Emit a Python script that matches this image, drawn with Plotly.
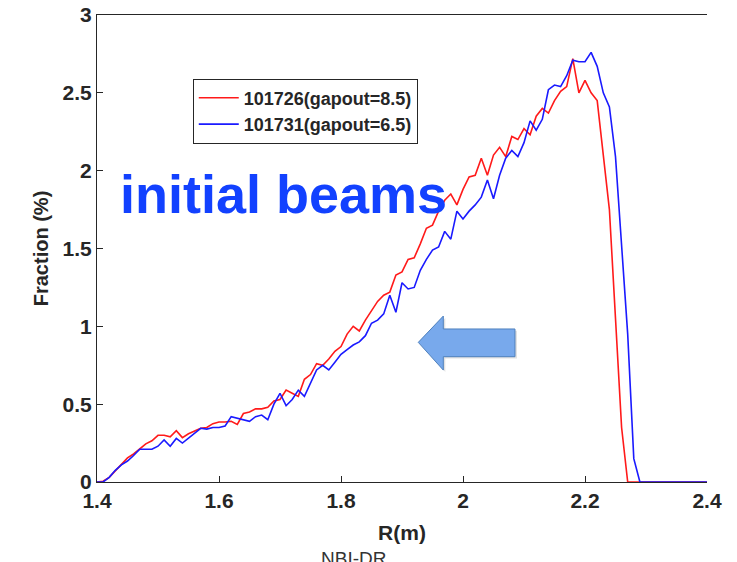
import plotly.graph_objects as go

R = [round(1.40 + 0.01 * i, 2) for i in range(101)]

red_vals = [
    0.0, 0.005, 0.03, 0.07, 0.115, 0.155, 0.18, 0.21, 0.245, 0.265,
    0.30, 0.30, 0.29, 0.33, 0.285, 0.31, 0.33, 0.345, 0.35, 0.375,
    0.385, 0.385, 0.39, 0.37, 0.44, 0.45, 0.47, 0.47, 0.48, 0.52,
    0.53, 0.59, 0.57, 0.55, 0.66, 0.69, 0.76, 0.75, 0.79, 0.84,
    0.87, 0.95, 1.00, 0.97, 1.04, 1.10, 1.16, 1.20, 1.22, 1.33,
    1.35, 1.43, 1.44, 1.53, 1.63, 1.65, 1.74, 1.81, 1.85, 1.78,
    1.88, 1.96, 1.97, 2.08, 1.97, 2.10, 2.15, 2.09, 2.22, 2.20,
    2.27, 2.23, 2.35, 2.40, 2.37, 2.45, 2.51, 2.54, 2.72, 2.50,
    2.58, 2.50, 2.45, 2.10, 1.75, 1.05, 0.35, 0.0, 0.0, 0.0,
    0.0, 0.0, 0.0, 0.0, 0.0, 0.0, 0.0, 0.0, 0.0, 0.0, 0.0,
]

blue_vals = [
    0.0, 0.0, 0.03, 0.075, 0.11, 0.135, 0.17, 0.21, 0.21, 0.21,
    0.23, 0.27, 0.23, 0.28, 0.25, 0.28, 0.31, 0.345, 0.34, 0.35,
    0.35, 0.36, 0.42, 0.41, 0.40, 0.39, 0.42, 0.43, 0.40, 0.50,
    0.57, 0.49, 0.53, 0.59, 0.55, 0.63, 0.72, 0.75, 0.72, 0.77,
    0.82, 0.85, 0.88, 0.90, 0.94, 1.02, 1.04, 1.08, 1.20, 1.09,
    1.28, 1.24, 1.25, 1.36, 1.43, 1.49, 1.51, 1.61, 1.56, 1.74,
    1.69, 1.74, 1.78, 1.83, 1.94, 1.82, 1.97, 2.08, 2.13, 2.09,
    2.18, 2.32, 2.26, 2.33, 2.52, 2.55, 2.54, 2.61, 2.71, 2.70,
    2.70, 2.76, 2.67, 2.50, 2.41, 2.09, 1.53, 0.95, 0.15, 0.0,
    0.0, 0.0, 0.0, 0.0, 0.0, 0.0, 0.0, 0.0, 0.0, 0.0, 0.0,
]

series_names = ["101726(gapout=8.5)", "101731(gapout=6.5)"]
x_ticks = [1.4, 1.6, 1.8, 2.0, 2.2, 2.4]
x_tick_labels = ["1.4", "1.6", "1.8", "2", "2.2", "2.4"]
y_ticks = [0, 0.5, 1, 1.5, 2, 2.5, 3]
y_tick_labels = ["0", "0.5", "1", "1.5", "2", "2.5", "3"]

FONT = "Liberation Sans"

fig = go.Figure()
fig.add_trace(go.Scatter(x=R, y=red_vals, mode="lines", name="<b>%s</b>" % series_names[0],
                         line=dict(color="#ff1a1a", width=1.6)))
fig.add_trace(go.Scatter(x=R, y=blue_vals, mode="lines", name="<b>%s</b>" % series_names[1],
                         line=dict(color="#1a1aff", width=1.6)))

# arrow decoration (shadow + arrow)
arrow_path = ("M 1.9267 0.897 L 1.9677 1.066 L 1.9677 0.983 L 2.0852 0.983 "
              "L 2.0852 0.805 L 1.9677 0.805 L 1.9677 0.719 Z")
shadow_path = ("M 1.9300 0.885 L 1.9710 1.054 L 1.9710 0.971 L 2.0885 0.971 "
               "L 2.0885 0.793 L 1.9710 0.793 L 1.9710 0.707 Z")
fig.add_shape(type="path", path=shadow_path, xref="x", yref="y",
              fillcolor="rgba(120,120,120,0.22)", line=dict(width=0), layer="above")
fig.add_shape(type="path", path=arrow_path, xref="x", yref="y",
              fillcolor="#78a9ec", line=dict(color="#4f81bd", width=1), layer="above")

fig.add_annotation(text="<b>initial beams</b>", xref="paper", yref="paper",
                   x=0.035, y=0.617, xanchor="left", yanchor="middle", showarrow=False,
                   font=dict(family=FONT, size=54, color="#1241ff"))
fig.add_annotation(text="NBI-DR", xref="paper", yref="paper",
                   x=0.421, y=-0.136, xanchor="center", yanchor="top", showarrow=False,
                   font=dict(family=FONT, size=19, color="#333333"))

fig.update_layout(
    width=737, height=562,
    margin=dict(l=97, r=30, t=15, b=80),
    paper_bgcolor="white", plot_bgcolor="white",
    font=dict(family=FONT, color="#262626"),
    showlegend=True,
    legend=dict(x=0.157, y=0.864, xanchor="left", yanchor="top",
                bgcolor="white", bordercolor="#262626", borderwidth=1,
                font=dict(family=FONT, size=18, color="#262626"),
                tracegroupgap=0, itemwidth=40),
    xaxis=dict(range=[1.4, 2.4], tickvals=x_ticks, ticktext=["<b>%s</b>" % t for t in x_tick_labels],
               automargin=False,
               showgrid=False, zeroline=False, showline=True, linecolor="#262626", linewidth=1,
               mirror=True, ticks="inside", ticklen=6, tickcolor="#262626",
               tickfont=dict(family=FONT, size=21, color="#262626"),
               title=dict(text="<b>R(m)</b>", font=dict(family=FONT, size=21, color="#262626"), standoff=14)),
    yaxis=dict(range=[0, 3], tickvals=y_ticks, ticktext=["<b>%s</b>" % t for t in y_tick_labels],
               automargin=False,
               showgrid=False, zeroline=False, showline=True, linecolor="#262626", linewidth=1,
               mirror=False, ticks="inside", ticklen=6, tickcolor="#262626",
               tickfont=dict(family=FONT, size=21, color="#262626"),
               title=dict(text="<b>Fraction (%)</b>", font=dict(family=FONT, size=20, color="#262626"), standoff=8)),
)

fig.write_html("out.html")
